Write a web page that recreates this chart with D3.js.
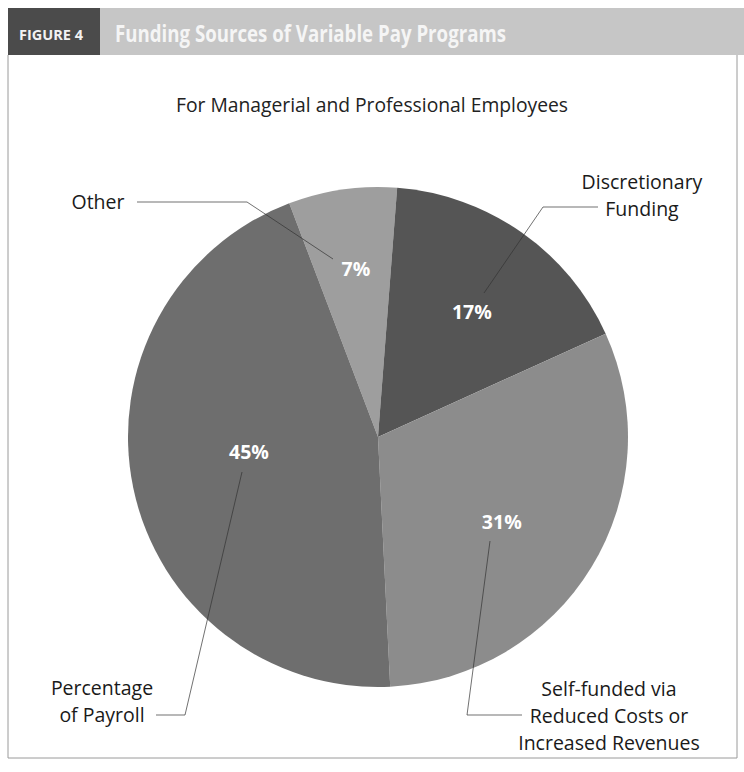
<!DOCTYPE html>
<html>
<head>
<meta charset="utf-8">
<script src="https://cdn.jsdelivr.net/npm/d3@7"></script>
<style>
  body { margin: 0; background: #fff; }
  svg { display: block; font-family: "Open Sans", "Noto Sans", sans-serif; }
</style>
</head>
<body>
<div id="chart"></div>
<script>
// data
const categories = ["Other", "Discretionary Funding", "Self-funded via Reduced Costs or Increased Revenues", "Percentage of Payroll"];
const values = [7, 17, 31, 45];
const labelLines = [["Other"], ["Discretionary", "Funding"], ["Self-funded via", "Reduced Costs or", "Increased Revenues"], ["Percentage", "of Payroll"]];
const colors = ["#9e9e9e", "#555555", "#8c8c8c", "#6e6e6e"];

const W = 744, H = 772;
const cx = 378, cy = 437, R = 250;

const svg = d3.select("#chart").append("svg")
  .attr("width", W).attr("height", H);

// header band
svg.append("rect").attr("x", 8).attr("y", 8).attr("width", W - 8).attr("height", 47).attr("fill", "#c6c6c6");
svg.append("rect").attr("x", 8).attr("y", 8).attr("width", 92).attr("height", 47).attr("fill", "#4b4b4b");
svg.append("text").attr("x", 19).attr("y", 40)
  .attr("fill", "#f2f2f2").attr("font-weight", 700).attr("font-size", 15)
  .attr("textLength", 64).attr("lengthAdjust", "spacingAndGlyphs")
  .text("FIGURE 4");
svg.append("text").attr("x", 115).attr("y", 42)
  .attr("fill", "#f5f5f5").attr("font-weight", 700).attr("font-size", 23)
  .attr("textLength", 391).attr("lengthAdjust", "spacingAndGlyphs")
  .text("Funding Sources of Variable Pay Programs");

// frame
svg.append("path")
  .attr("d", `M8,55 V758 H737 V55`)
  .attr("fill", "none").attr("stroke", "#9a9a9a").attr("stroke-width", 1);

// subtitle
svg.append("text").attr("x", 372).attr("y", 112)
  .attr("text-anchor", "middle").attr("fill", "#222").attr("font-size", 19.5)
  .attr("textLength", 392).attr("lengthAdjust", "spacingAndGlyphs")
  .text("For Managerial and Professional Employees");

// pie
const start = -20.8 * Math.PI / 180;
const pie = d3.pie().sort(null).value(d => d).startAngle(start).endAngle(start + 2 * Math.PI);
const arcs = pie(values);
const arc = d3.arc().innerRadius(0).outerRadius(R);

const g = svg.append("g").attr("transform", `translate(${cx},${cy})`);
g.selectAll("path.slice").data(arcs).enter().append("path")
  .attr("class", "slice")
  .attr("d", arc)
  .attr("fill", (d, i) => colors[i]);

// percent labels (radius and angle nudges per slice)
const labelR = [169, 156, 150, 130];
const labelNudge = [0.7, 2, 3, 5];
g.selectAll("text.pct").data(arcs).enter().append("text")
  .attr("class", "pct")
  .attr("transform", (d, i) => {
    const a = (d.startAngle + d.endAngle) / 2 + labelNudge[i] * Math.PI / 180;
    return `translate(${Math.sin(a) * labelR[i]},${-Math.cos(a) * labelR[i]})`;
  })
  .attr("text-anchor", "middle").attr("dy", "0.36em")
  .attr("fill", "#fff").attr("font-weight", 700).attr("font-size", 19.5)
  .text(d => d.data + "%");

// leader lines
const leaders = [
  [[137, 202], [247, 202], [333, 259]],
  [[598, 207], [543, 207], [484, 293]],
  [[490, 541], [467, 715], [522, 715]],
  [[242, 472], [185, 715], [156, 715]]
];
svg.selectAll("path.leader").data(leaders).enter().append("path")
  .attr("class", "leader")
  .attr("d", d3.line())
  .attr("fill", "none").attr("stroke", "#333").attr("stroke-width", 0.7);

// category labels
const labelPos = [[98, 202], [642, 182], [609, 689], [102, 688]];
labelLines.forEach((lines, i) => {
  const t = svg.append("text")
    .attr("text-anchor", "middle").attr("fill", "#1a1a1a").attr("font-size", 19.5);
  lines.forEach((s, j) => {
    t.append("tspan").attr("x", labelPos[i][0]).attr("y", labelPos[i][1] + j * 27)
      .attr("dy", "0.36em").text(s);
  });
});
</script>
</body>
</html>
